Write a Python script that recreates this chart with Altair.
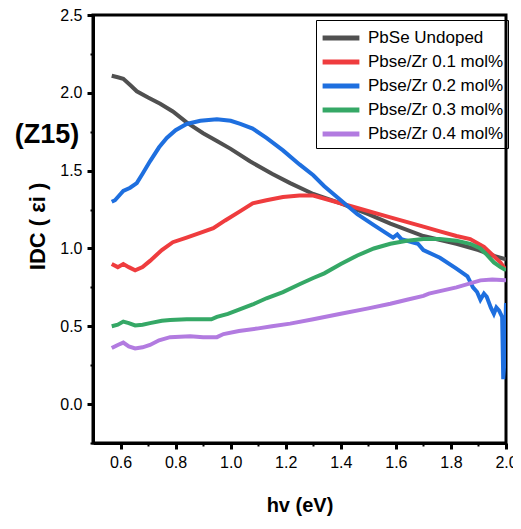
import altair as alt
import pandas as pd

series_names = ["PbSe Undoped", "Pbse/Zr 0.1 mol%", "Pbse/Zr 0.2 mol%", "Pbse/Zr 0.3 mol%", "Pbse/Zr 0.4 mol%"]
series_colors = ["#505050", "#EF3C3E", "#1E6FDF", "#35A866", "#B27BE0"]

gray_x = [0.568, 0.59, 0.61, 0.635, 0.659, 0.70, 0.744, 0.79, 0.84, 0.90, 0.95, 1.00, 1.07, 1.15, 1.216, 1.30, 1.40, 1.50, 1.58, 1.70, 1.82, 1.90, 1.96, 2.0]
gray_y = [2.11, 2.10, 2.09, 2.05, 2.01, 1.97, 1.93, 1.88, 1.81, 1.74, 1.69, 1.64, 1.56, 1.48, 1.42, 1.35, 1.29, 1.22, 1.16, 1.08, 1.03, 0.99, 0.95, 0.93]

red_x = [0.568, 0.59, 0.61, 0.63, 0.653, 0.68, 0.707, 0.75, 0.79, 0.84, 0.889, 0.937, 0.98, 1.035, 1.08, 1.13, 1.19, 1.25, 1.30, 1.38, 1.46, 1.58, 1.70, 1.76, 1.82, 1.87, 1.92, 1.956, 1.98, 2.0]
red_y = [0.90, 0.88, 0.90, 0.88, 0.86, 0.88, 0.92, 0.99, 1.04, 1.07, 1.10, 1.13, 1.18, 1.24, 1.29, 1.31, 1.33, 1.34, 1.34, 1.30, 1.26, 1.20, 1.14, 1.11, 1.08, 1.06, 1.01, 0.95, 0.91, 0.86]

blue_x = [0.568, 0.58, 0.60, 0.61, 0.635, 0.659, 0.68, 0.707, 0.74, 0.768, 0.80, 0.84, 0.89, 0.95, 1.00, 1.035, 1.08, 1.13, 1.19, 1.25, 1.30, 1.34, 1.40, 1.46, 1.52, 1.59, 1.605, 1.62, 1.66, 1.68, 1.70, 1.76, 1.82, 1.86, 1.88, 1.895, 1.907, 1.92, 1.93, 1.945, 1.956, 1.965, 1.975, 1.986, 1.99, 1.995, 2.0]
blue_y = [1.30, 1.31, 1.35, 1.37, 1.39, 1.42, 1.48, 1.56, 1.65, 1.71, 1.76, 1.80, 1.82, 1.83, 1.82, 1.80, 1.77, 1.71, 1.63, 1.54, 1.47, 1.40, 1.31, 1.22, 1.15, 1.07, 1.09, 1.06, 1.04, 1.03, 0.99, 0.94, 0.87, 0.82, 0.75, 0.72, 0.67, 0.71, 0.69, 0.62, 0.58, 0.62, 0.60, 0.56, 0.16, 0.30, 0.65]

green_x = [0.568, 0.59, 0.61, 0.63, 0.653, 0.68, 0.707, 0.75, 0.78, 0.84, 0.889, 0.93, 0.95, 0.99, 1.035, 1.08, 1.13, 1.19, 1.25, 1.30, 1.34, 1.40, 1.46, 1.52, 1.58, 1.64, 1.70, 1.76, 1.82, 1.87, 1.907, 1.93, 1.956, 1.98, 2.0]
green_y = [0.50, 0.51, 0.53, 0.52, 0.505, 0.51, 0.52, 0.535, 0.54, 0.545, 0.545, 0.545, 0.56, 0.58, 0.61, 0.64, 0.68, 0.72, 0.77, 0.81, 0.84, 0.90, 0.955, 1.00, 1.03, 1.05, 1.06, 1.06, 1.05, 1.03, 1.00, 0.96, 0.91, 0.88, 0.86]

purple_x = [0.568, 0.59, 0.61, 0.63, 0.653, 0.68, 0.707, 0.74, 0.78, 0.853, 0.90, 0.95, 0.974, 1.03, 1.095, 1.15, 1.216, 1.30, 1.40, 1.50, 1.58, 1.64, 1.70, 1.72, 1.82, 1.907, 1.95, 2.0]
purple_y = [0.36, 0.38, 0.395, 0.37, 0.357, 0.365, 0.38, 0.41, 0.43, 0.436, 0.43, 0.43, 0.45, 0.47, 0.485, 0.50, 0.517, 0.545, 0.58, 0.615, 0.645, 0.67, 0.695, 0.71, 0.75, 0.795, 0.80, 0.795]

x_ticks = [0.6, 0.7, 0.8, 0.9, 1.0, 1.1, 1.2, 1.3, 1.4, 1.5, 1.6, 1.7, 1.8, 1.9, 2.0]
y_ticks = [-0.25, 0.0, 0.25, 0.5, 0.75, 1.0, 1.25, 1.5, 1.75, 2.0, 2.25, 2.5]

rows = []
for name, xs, ys in zip(series_names,
                        [gray_x, red_x, blue_x, green_x, purple_x],
                        [gray_y, red_y, blue_y, green_y, purple_y]):
    for i, (a, b) in enumerate(zip(xs, ys)):
        rows.append({"series": name, "hv": a, "idc": b, "order": i})
df = pd.DataFrame(rows)

FONT = "Liberation Sans, Arial, Helvetica, sans-serif"

x_major_test = "abs(round(datum.value*5)-datum.value*5) < 0.01"
y_major_test = "abs(round(datum.value*2)-datum.value*2) < 0.01"

xscale = alt.Scale(domain=[0.5, 2.0], nice=False, zero=False)
yscale = alt.Scale(domain=[-0.25, 2.5], nice=False, zero=False)

lines = alt.Chart(df).mark_line(strokeWidth=4, clip=True).encode(
    x=alt.X("hv:Q", scale=xscale, axis=alt.Axis(
        values=x_ticks, format=".1f", title="hv (eV)", orient="bottom",
        labelExpr=f"({x_major_test}) ? format(datum.value, '.1f') : ''",
        labelFont=FONT, labelFontSize=16, labelColor="black", labelPadding=5,
        labelFlush=False, labelOverlap=False,
        tickSize={"condition": {"test": x_major_test, "value": 6}, "value": 3},
        tickWidth={"condition": {"test": x_major_test, "value": 3}, "value": 2},
        tickColor="black",
        domainWidth=3, domainColor="black", grid=False,
        titleFont=FONT, titleFontSize=20, titleFontWeight="bold", titleColor="black",
        titleY=62, titleBaseline="middle")),
    y=alt.Y("idc:Q", scale=yscale, axis=alt.Axis(
        values=y_ticks, format=".1f", title="IDC ( εi )", orient="left",
        labelExpr=f"({y_major_test}) ? format(datum.value, '.1f') : ''",
        labelFont=FONT, labelFontSize=16, labelColor="black", labelPadding=5,
        labelFlush=False, labelOverlap=False,
        tickSize={"condition": {"test": y_major_test, "value": 6}, "value": 3},
        tickWidth={"condition": {"test": y_major_test, "value": 3}, "value": 2},
        tickColor="black",
        domainWidth=3, domainColor="black", grid=False,
        titleFont=FONT, titleFontSize=22, titleFontWeight="bold", titleColor="black",
        titleX=-56, titleY=211, titleBaseline="middle", titleAngle=-90)),
    color=alt.Color("series:N", scale=alt.Scale(domain=series_names, range=series_colors),
                    legend=alt.Legend(orient="none", legendX=223, legendY=5, title=None,
                                      symbolType="M-1.6,0H1.6", symbolStrokeWidth=5, symbolSize=529,
                                      symbolOffset=7,
                                      labelFont=FONT, labelFontSize=17, labelColor="black",
                                      strokeColor="black", padding=4, rowPadding=0,
                                      labelOffset=13)),
    order="order:Q",
)

label_df = pd.DataFrame({"t": ["(Z15)"]})
z15 = alt.Chart(label_df).mark_text(
    font=FONT, fontSize=27, fontWeight="bold", color="black",
    align="center", baseline="middle").encode(
    x=alt.value(-46), y=alt.value(120), text="t:N")

chart = alt.layer(lines, z15).properties(
    width=413, height=428,
    autosize=alt.AutoSizeParams(type="none"),
    padding={"left": 85, "top": 7, "right": 7, "bottom": 76},
).configure_view(stroke="black", strokeWidth=3)

chart.save("out.html", embed_options={"renderer": "svg", "actions": False})
